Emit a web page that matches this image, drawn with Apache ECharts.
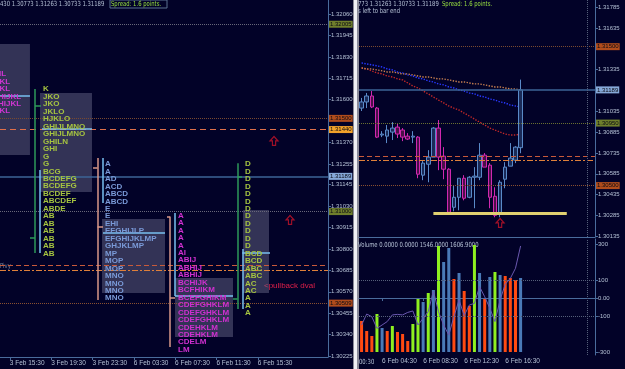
<!DOCTYPE html>
<html>
<head>
<meta charset="utf-8">
<script src="https://cdn.jsdelivr.net/npm/echarts@6/dist/echarts.min.js"></script>
<style>
html, body { margin: 0; padding: 0; background: #020228; }
#main { width: 625px; height: 369px; }
</style>
</head>
<body>
<div id="main"></div>
<script>
// ---- left window: market profile (TPO letters), 30 min slots ----
var leftPriceTicks = [1.32060, 1.31945, 1.31830, 1.31715, 1.31600, 1.31370, 1.31255, 1.31145,
                      1.31030, 1.30915, 1.30800, 1.30685, 1.30570, 1.30455, 1.30340, 1.30225];
var leftTimeTicks = [2, 10, 18, 26, 34, 42, 50];
var leftTimeLabels = ['3 Feb 15:30', '3 Feb 19:30', '3 Feb 23:30', '6 Feb 03:30',
                      '6 Feb 07:30', '6 Feb 11:30', '6 Feb 15:30'];

var tpoStep = 0.0004;
var tpoStart = [-2.42, 8.43, 20.43, 34.56, 47.53];
var tpoTop = [1.31738, 1.31656, 1.31255, 1.30979, 1.31255];
var tpoRows1 = ['GHIL', 'HIJKL', 'HIJKL', 'FGHIJKL', 'FGHIJKL', 'HIJKL'];
var tpoRows2 = ['K', 'JKO', 'JKO', 'JKLO', 'HJKLO', 'GHIJLMNO', 'GHIJLMNO', 'GHILN', 'GHI', 'G', 'G',
                'BCG', 'BCDEFG', 'BCDEFG', 'BCDEF', 'ABCDEF', 'ABDE', 'AB', 'AB', 'AB', 'AB', 'AB', 'AB'];
var tpoRows3 = ['A', 'A', 'AD', 'ACD', 'ABCD', 'ABCD', 'E', 'E', 'EHI', 'EFGHIJLP', 'EFGHIJKLMP',
                'GHJKLMP', 'MP', 'MOP', 'MOP', 'MNO', 'MNO', 'MNO', 'MNO'];
var tpoRows4 = ['A', 'A', 'A', 'A', 'A', 'AI', 'ABIJ', 'ABHIJ', 'ABHIJ', 'BCHIJK', 'BCFHIKM',
                'BCEFGHIKM', 'CDEFGHKLM', 'CDEFGHKLM', 'CDEFGHKLM', 'CDEHKLM', 'CDEHKLM', 'CDELM', 'LM'];
var tpoRows5 = ['D', 'D', 'D', 'D', 'D', 'D', 'D', 'D', 'D', 'D', 'D', 'D',
                'BCD', 'BCD', 'ABC', 'ABC', 'AC', 'AC', 'A', 'A', 'A'];

// value areas: [x from, x to, price high, price low]
var valueAreas = [
    [0.1, 5.9, 1.31899, 1.31304],
    [7.84, 17.91, 1.31636, 1.31105],
    [19.85, 32.05, 1.30960, 1.30563],
    [33.98, 45.21, 1.30644, 1.30327],
    [47.15, 52.18, 1.31008, 1.30563]
];
// profile frame segments: [x1, p1, x2, p2, kind]  kind 0 green, 1 light blue, 2 salmon
var profileSegs = [
    [0.1, 1.31620, 5.9, 1.31620, 1],
    [6.88, 1.31657, 6.88, 1.30778, 0],
    [6.88, 1.31568, 8.04, 1.31568, 0],
    [5.9, 1.30858, 6.88, 1.30858, 0],
    [7.84, 1.31223, 7.84, 1.30778, 1],
    [8.23, 1.31443, 17.91, 1.31443, 1],
    [18.98, 1.31287, 18.98, 1.30526, 2],
    [18.11, 1.31235, 18.98, 1.31235, 2],
    [18.98, 1.30919, 20.04, 1.30919, 2],
    [19.94, 1.31287, 19.94, 1.31046, 1],
    [20.04, 1.30884, 32.05, 1.30884, 1],
    [33.01, 1.30973, 33.01, 1.30274, 2],
    [32.43, 1.30973, 33.01, 1.30973, 2],
    [33.01, 1.30536, 33.98, 1.30536, 2],
    [33.98, 1.30992, 33.98, 1.30547, 1],
    [33.98, 1.30550, 45.21, 1.30550, 1],
    [46.08, 1.31259, 46.08, 1.30477, 0],
    [46.08, 1.31187, 46.95, 1.31187, 0],
    [45.21, 1.30531, 46.08, 1.30531, 0],
    [47.01, 1.30799, 47.01, 1.30477, 1],
    [47.01, 1.30779, 52.37, 1.30779, 1]
];
var leftArrows = [[53.15, 1.31379], [56.25, 1.30955]];
var leftLevels = [1.32005, 1.31500, 1.31440, 1.31189, 1.31000, 1.30712, 1.30686, 1.30509];

// ---- right window: M30 candles, volume, oscillator ----
var rightPriceTicks = [1.31785, 1.31635, 1.31335, 1.31035, 1.30885, 1.30735, 1.30585, 1.30435, 1.30285, 1.30135];
var rightTimes = [];
for (var t = 0; t < 46; t++) {
    var m = 150 + t * 30;
    var hh = Math.floor(m / 60) % 24;
    rightTimes.push('6 Feb ' + (hh < 10 ? '0' : '') + hh + ':' + (m % 60 ? '30' : '00'));
}
// [open, close, low, high]
var candles = [
    [1.31058, 1.31102, 1.31037, 1.31131],
    [1.31102, 1.31145, 1.31058, 1.31167],
    [1.31145, 1.31066, 1.31058, 1.31181],
    [1.31058, 1.30849, 1.30842, 1.31066],
    [1.30864, 1.30871, 1.30849, 1.30892],
    [1.30856, 1.30900, 1.30806, 1.30936],
    [1.30885, 1.30914, 1.30828, 1.30957],
    [1.30921, 1.30871, 1.30842, 1.30950],
    [1.30900, 1.30849, 1.30820, 1.30914],
    [1.30856, 1.30835, 1.30828, 1.30878],
    [1.30849, 1.30856, 1.30806, 1.30892],
    [1.30849, 1.30582, 1.30553, 1.30856],
    [1.30575, 1.30662, 1.30539, 1.30683],
    [1.30654, 1.30705, 1.30524, 1.30755],
    [1.30705, 1.30914, 1.30705, 1.30921],
    [1.30914, 1.30705, 1.30611, 1.30972],
    [1.30712, 1.30618, 1.30546, 1.30777],
    [1.30618, 1.30308, 1.30301, 1.30625],
    [1.30344, 1.30416, 1.30315, 1.30503],
    [1.30416, 1.30553, 1.30322, 1.30553],
    [1.30553, 1.30409, 1.30394, 1.30575],
    [1.30416, 1.30560, 1.30409, 1.30568],
    [1.30560, 1.30568, 1.30337, 1.30633],
    [1.30560, 1.30719, 1.30539, 1.30806],
    [1.30719, 1.30633, 1.30633, 1.30734],
    [1.30647, 1.30416, 1.30337, 1.30662],
    [1.30423, 1.30286, 1.30272, 1.30488],
    [1.30293, 1.30524, 1.30272, 1.30539],
    [1.30546, 1.30633, 1.30481, 1.30669],
    [1.30640, 1.30698, 1.30640, 1.30806],
    [1.30683, 1.30777, 1.30662, 1.30784],
    [1.30773, 1.31189, 1.30733, 1.31263]
];
var maBlue = [1.31383, 1.31376, 1.31369, 1.31362, 1.31354, 1.31340, 1.31333, 1.31318, 1.31311, 1.31297,
              1.31289, 1.31275, 1.31268, 1.31253, 1.31246, 1.31232, 1.31225, 1.31210, 1.31203, 1.31188,
              1.31181, 1.31167, 1.31160, 1.31145, 1.31138, 1.31123, 1.31116, 1.31102, 1.31095, 1.31080,
              1.31073, 1.31066];
var maOrange = [1.31347, 1.31340, 1.31340, 1.31333, 1.31326, 1.31318, 1.31318, 1.31311, 1.31304, 1.31304,
                1.31297, 1.31289, 1.31282, 1.31282, 1.31275, 1.31268, 1.31268, 1.31261, 1.31253, 1.31246,
                1.31246, 1.31239, 1.31232, 1.31232, 1.31225, 1.31217, 1.31210, 1.31210, 1.31203, 1.31196,
                1.31196, 1.31188];
var maRed = [1.31347, 1.31340, 1.31326, 1.31311, 1.31304, 1.31289, 1.31282, 1.31268, 1.31261, 1.31239,
             1.31217, 1.31203, 1.31181, 1.31160, 1.31138, 1.31116, 1.31095, 1.31073, 1.31058, 1.31044,
             1.31022, 1.31001, 1.30979, 1.30957, 1.30936, 1.30914, 1.30900, 1.30885, 1.30871, 1.30864,
             1.30864, 1.30871];
var rightLevels = [1.31500, 1.31189, 1.30950, 1.30712, 1.30686, 1.30500];
var supportLine = [[14, 1.30301], [40, 1.30301]];
var rightArrows = [[27, 1.30231]];
var sessionEnd = 44;

var volume = [620, 420, 320, 760, 480, 420, 520, 400, 360, 220, 560, 1060, 1000, 1180, 1240, 2120,
              1800, 2080, 1460, 1580, 1220, 920, 2140, 1580, 1060, 1500, 1600, 1540, 1520, 1480, 1440, 1480];
var volumeDir = ['d', 'd', 'd', 'u', 'n', 'd', 'u', 'd', 'd', 'd', 'u', 'u', 'n', 'u', 'n', 'u',
                 'n', 'n', 'd', 'n', 'd', 'd', 'u', 'n', 'd', 'n', 'u', 'n', 'd', 'd', 'd', 'n'];
var osc = [-150, -89, -104, -169, -150, -131, -94, -91, -94, -80, -72, -150, -113, -76, 39, -76,
           -150, -206, -104, -11, -98, -39, -30, 63, 7, -57, -131, -11, 76, 109, 165, 289];
var oscTicks = [300, 100, 0, -100, -300];
var oscLevels = [100, -100];

// ---- styles ----
var bg = '#020228';
var axisCol = '#4a6c9c';
var txtCol = '#b4c0d4';
var narrow = '"Liberation Sans Narrow", "DejaVu Sans Condensed", "Liberation Sans", sans-serif';
var axisFont = '"Liberation Sans", Arial, sans-serif';
var tpoFont = 'bold 8px "Liberation Sans", Arial, sans-serif';
var tpoColor = ['#d035d2', '#a6c440', '#7a9ad8', '#d030d0', '#a6c440'];
var segColor = ['#2e9a5a', '#78c0f0', '#d89888'];
var volColor = { d: '#ff4a12', u: '#8ef020', n: '#4a7ab8' };
var levelStyle = {
    1.32005: { c: '#68687a', t: 'dotted', w: 1, tag: '#6f7f2c' },
    1.31500: { c: '#7a4a30', t: 'dotted', w: 1, tag: '#b04c1c' },
    1.31440: { c: '#e0704a', t: [6, 4], w: 1, tag: '#f2a22a' },
    1.31189: { c: '#3c6496', t: 'solid', w: 1.5, tag: '#86a8d8' },
    1.31000: { c: '#68687a', t: 'dotted', w: 1, tag: '#6f7f2c' },
    1.30950: { c: '#6a7030', t: 'dotted', w: 1, tag: '#6f7f2c' },
    1.30712: { c: '#c85a3a', t: [5, 3], w: 1, tag: null },
    1.30686: { c: '#e0803a', t: [6, 2, 2, 2], w: 1, tag: null },
    1.30509: { c: '#8a5030', t: 'dotted', w: 1, tag: '#b04c1c' },
    1.30500: { c: '#8a5030', t: 'dotted', w: 1, tag: '#b04c1c' }
};

function levelLines(levels) {
    return levels.map(function (v) {
        var s = levelStyle[v];
        return {
            yAxis: v,
            lineStyle: { color: s.c, type: s.t, width: s.w, opacity: 1 },
            label: s.tag ? {
                show: true, position: 'end', distance: 1, formatter: v.toFixed(5),
                backgroundColor: s.tag, color: '#0a0a14', padding: [1, 1, 0, 1],
                fontSize: 6, fontFamily: axisFont
            } : { show: false }
        };
    });
}

// small header texts are squeezed horizontally like the terminal's tiny font
function hdr(x, y, text, color) {
    return {
        type: 'text', x: x, y: y, scaleX: 0.84, silent: true,
        style: { text: text, fill: color, font: '7px ' + narrow, verticalAlign: 'middle' }
    };
}

var tpoRows = [tpoRows1, tpoRows2, tpoRows3, tpoRows4, tpoRows5];
var tpoData = [];
for (var k = 0; k < tpoRows.length; k++) {
    for (var r = 0; r < tpoRows[k].length; r++) {
        tpoData.push([tpoStart[k], +(tpoTop[k] - r * tpoStep).toFixed(5), k, r]);
    }
}

var chart = echarts.init(document.getElementById('main'));

var option = {
    backgroundColor: bg,
    animation: false,
    textStyle: { fontFamily: axisFont },
    grid: [
        { left: 0, top: 0, width: 328, height: 357 },
        { left: 359, top: 0, width: 236, height: 237 },
        { left: 359, top: 239, width: 236, height: 116 }
    ],
    xAxis: [
        {
            type: 'value', gridIndex: 0, min: 0.1, max: 63.6,
            axisLine: { show: true, onZero: false, lineStyle: { color: axisCol } },
            axisTick: { show: true, customValues: leftTimeTicks, length: 3, lineStyle: { color: axisCol } },
            axisLabel: {
                customValues: leftTimeTicks, color: txtCol, fontSize: 6.5, margin: 3, align: 'left',
                formatter: function (v) { return leftTimeLabels[leftTimeTicks.indexOf(v)]; }
            },
            splitLine: { show: false }
        },
        {
            type: 'category', gridIndex: 1, data: rightTimes,
            axisLine: { show: true, lineStyle: { color: axisCol } },
            axisTick: { show: false }, axisLabel: { show: false }
        },
        {
            type: 'category', gridIndex: 2, data: rightTimes,
            axisLine: { show: true, lineStyle: { color: axisCol } },
            axisTick: {
                show: true, length: 3, alignWithLabel: true, lineStyle: { color: axisCol },
                interval: function (i) { return i < candles.length && i % 8 === 4; }
            },
            axisLabel: {
                color: txtCol, fontSize: 6.5, margin: 3, align: 'left',
                interval: function (i) { return i < candles.length && i % 8 === 4; }
            }
        }
    ],
    yAxis: [
        {
            type: 'value', gridIndex: 0, position: 'right', min: 1.30220, max: 1.32135,
            axisLine: { show: true, lineStyle: { color: axisCol } },
            axisTick: { show: true, customValues: leftPriceTicks, length: 3, lineStyle: { color: axisCol } },
            axisLabel: {
                customValues: leftPriceTicks, color: txtCol, fontSize: 6, margin: 3,
                formatter: function (v) { return v.toFixed(5); }
            },
            splitLine: { show: false }
        },
        {
            type: 'value', gridIndex: 1, position: 'right', min: 1.30130, max: 1.31836,
            axisLine: { show: true, lineStyle: { color: axisCol } },
            axisTick: { show: true, customValues: rightPriceTicks, length: 3, lineStyle: { color: axisCol } },
            axisLabel: {
                customValues: rightPriceTicks, color: txtCol, fontSize: 6, margin: 3,
                formatter: function (v) { return v.toFixed(5); }
            },
            splitLine: { show: false }
        },
        {
            type: 'value', gridIndex: 2, position: 'right', min: -316.7, max: 327.8,
            axisLine: { show: true, lineStyle: { color: axisCol } },
            axisTick: { show: true, customValues: oscTicks, length: 3, lineStyle: { color: axisCol } },
            axisLabel: {
                customValues: oscTicks, color: txtCol, fontSize: 6, margin: 3,
                formatter: function (v) { return v === 0 ? '0.00' : String(v); }
            },
            splitLine: { show: false }
        },
        { type: 'value', gridIndex: 2, min: -60, max: 2260, show: false, splitLine: { show: false } }
    ],
    series: [
        // left: value areas, level lines, profile frames, arrows
        {
            type: 'scatter', xAxisIndex: 0, yAxisIndex: 0, z: 2,
            data: leftArrows,
            symbol: 'path://M5,0 L10,5 L7,5 L7,10 L3,10 L3,5 L0,5 Z',
            symbolSize: [8, 9],
            itemStyle: { color: 'rgba(0,0,0,0)', borderColor: '#c81428', borderWidth: 1.2 },
            markArea: {
                silent: true,
                itemStyle: { color: 'rgba(118,118,150,0.42)' },
                data: valueAreas.map(function (a) {
                    return [{ coord: [a[0], a[2]] }, { coord: [a[1], a[3]] }];
                })
            },
            markLine: {
                silent: true, symbol: ['none', 'none'], precision: 5,
                label: { show: false },
                data: levelLines(leftLevels).concat(profileSegs.map(function (s) {
                    return [
                        { coord: [s[0], s[1]], lineStyle: { color: segColor[s[4]], type: 'solid', width: 1.5 } },
                        { coord: [s[2], s[3]] }
                    ];
                }))
            }
        },
        {
            type: 'custom', xAxisIndex: 0, yAxisIndex: 0, z: 5, clip: false,
            data: tpoData,
            encode: { x: 0, y: 1 },
            renderItem: function (params, api) {
                var p = api.coord([api.value(0), api.value(1)]);
                var k = api.value(2), r = api.value(3);
                return {
                    type: 'text', x: p[0], y: p[1], silent: true,
                    style: {
                        text: tpoRows[k][r], fill: tpoColor[k], font: tpoFont,
                        align: 'left', textAlign: 'left', verticalAlign: 'middle', textVerticalAlign: 'middle'
                    }
                };
            }
        },
        // right: candles
        {
            type: 'candlestick', xAxisIndex: 1, yAxisIndex: 1, z: 3,
            data: candles, barWidth: 4,
            itemStyle: {
                color: '#1a2a58', color0: '#4a1048',
                borderColor: '#5a8ac8', borderColor0: '#d028b0', borderWidth: 1
            },
            markLine: {
                silent: true, symbol: ['none', 'none'], precision: 5,
                label: { show: false },
                data: levelLines(rightLevels).concat([
                    { xAxis: sessionEnd, lineStyle: { color: '#56607a', type: 'dotted', width: 1 } },
                    [
                        { coord: supportLine[0], lineStyle: { color: '#e0d070', type: 'solid', width: 3 } },
                        { coord: supportLine[1] }
                    ]
                ])
            }
        },
        {
            type: 'line', xAxisIndex: 1, yAxisIndex: 1, data: maRed, symbol: 'none', z: 2,
            lineStyle: { color: '#c02828', type: 'dotted', width: 1.4 }
        },
        {
            type: 'line', xAxisIndex: 1, yAxisIndex: 1, data: maBlue, symbol: 'none', z: 2,
            lineStyle: { color: '#2838ff', type: 'dotted', width: 1.4 }
        },
        {
            type: 'line', xAxisIndex: 1, yAxisIndex: 1, data: maOrange, symbol: 'none', z: 2,
            lineStyle: { color: '#c88050', type: 'dotted', width: 1.4 }
        },
        {
            type: 'scatter', xAxisIndex: 1, yAxisIndex: 1, data: rightArrows, z: 4,
            symbol: 'path://M5,0 L10,5 L7,5 L7,10 L3,10 L3,5 L0,5 Z',
            symbolSize: [8, 9],
            itemStyle: { color: 'rgba(0,0,0,0)', borderColor: '#c81428', borderWidth: 1.2 }
        },
        // right: volume + oscillator
        {
            type: 'bar', xAxisIndex: 2, yAxisIndex: 3, barWidth: 3,
            data: volume.map(function (v, i) {
                return { value: v, itemStyle: { color: volColor[volumeDir[i]] } };
            })
        },
        {
            type: 'line', xAxisIndex: 2, yAxisIndex: 2, data: osc, symbol: 'none', z: 3,
            lineStyle: { color: '#6a58b0', width: 1 },
            markLine: {
                silent: true, symbol: ['none', 'none'], label: { show: false },
                lineStyle: { color: '#56607a', type: 'dotted', width: 1 },
                data: oscLevels.map(function (v) { return { yAxis: v }; }).concat([{ xAxis: sessionEnd }])
            }
        }
    ],
    graphic: [
        { type: 'rect', shape: { x: 353, y: 0, width: 6, height: 369 }, style: { fill: '#8a8a98' }, silent: true },
        { type: 'rect', shape: { x: 354, y: 0, width: 3, height: 369 }, style: { fill: '#f0f0f4' }, silent: true },
        hdr(0, 4, '430 1.30773 1.31263 1.30733 1.31189', txtCol),
        { type: 'rect', shape: { x: 110, y: 0, width: 57, height: 8 }, style: { fill: 'none', stroke: '#5a7090', lineWidth: 1 } },
        hdr(111, 4, 'Spread: 1.6 points.', '#98e040'),
        hdr(358, 4, '773 1.31263 1.30733 1.31189', txtCol),
        hdr(442, 4, 'Spread: 1.6 points.', '#98e040'),
        hdr(358, 11, 's left to bar end', txtCol),
        hdr(358, 245, 'Volume 0.0000 0.0000 1546.0000 1606.9000', txtCol),
        hdr(359, 362, '00:30', txtCol),
        { type: 'text', x: 264, y: 286, style: { text: '<pullback dval', fill: '#e0204a', font: '8px "Liberation Sans", sans-serif', verticalAlign: 'middle' } },
        hdr(0, 266, 'Pivy', '#7a8aa0')
    ]
};

chart.setOption(option);
</script>
</body>
</html>
